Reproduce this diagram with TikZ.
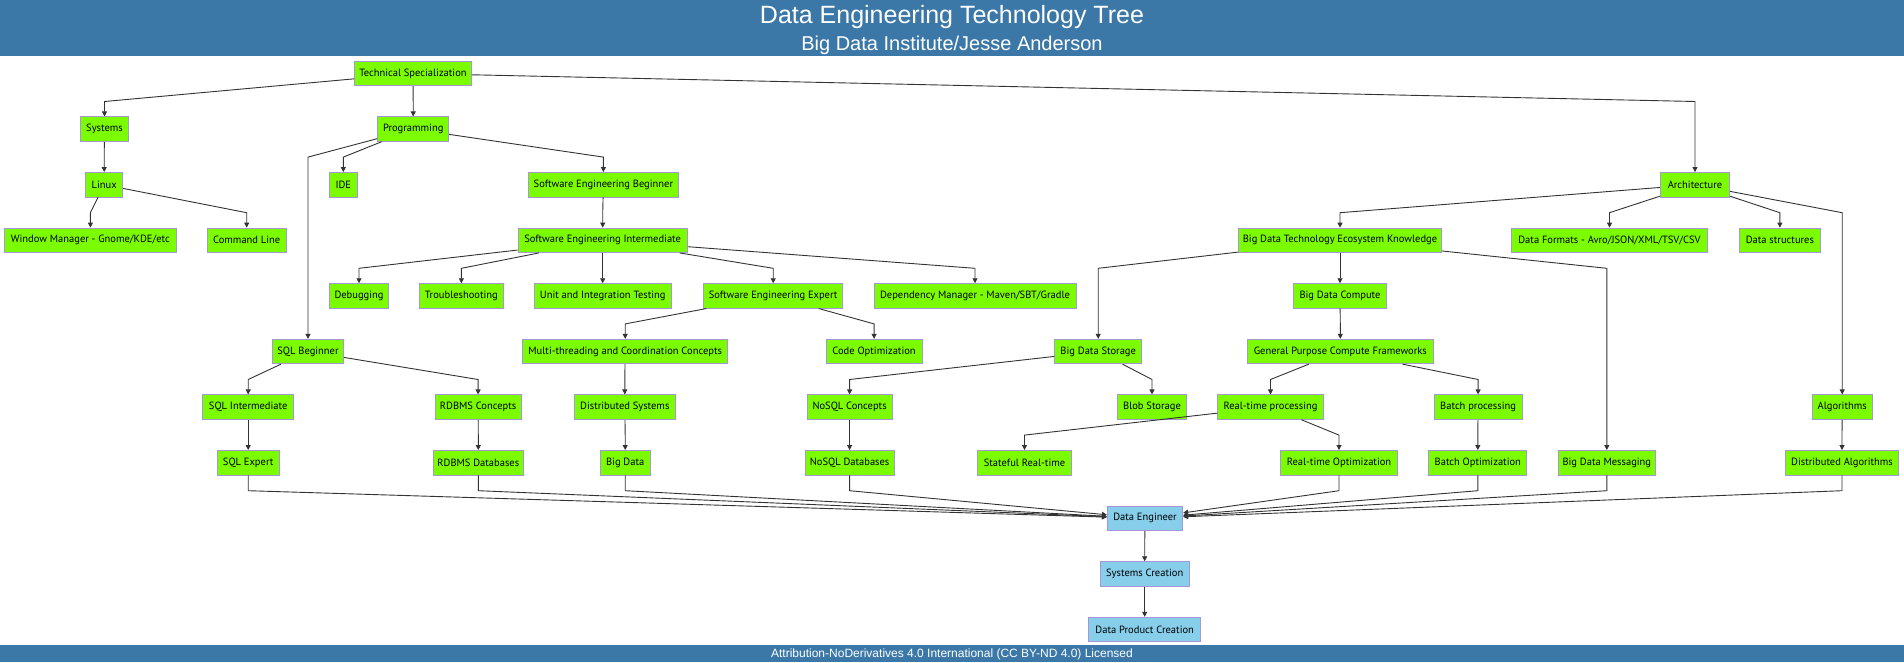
\documentclass[tikz,border=0pt]{standalone}
\usepackage{fontspec}
\setmainfont{Liberation Sans}
\newfontfamily\boxfont{PT Sans}
\usepackage{tikz}
\usetikzlibrary{arrows.meta,calc}
\definecolor{bandblue}{RGB}{59,120,168}
\definecolor{skillgreen}{RGB}{124,252,0}
\definecolor{rolesky}{RGB}{135,206,235}
\definecolor{boxline}{RGB}{165,150,215}
\definecolor{wire}{RGB}{51,51,51}

\begin{document}
\begin{tikzpicture}[x=1pt,y=-1pt,
  skill/.style={draw=boxline,line width=0.8pt,fill=skillgreen,minimum height=24.5pt,
    inner xsep=4pt,inner ysep=0pt,font=\boxfont\fontsize{10.5}{12.5}\selectfont,text=black},
  role/.style={skill,fill=rolesky},
  edge/.style={draw=wire,line width=0.9pt,-{Triangle[length=5pt,width=5pt]}},
  band/.style={text=white,anchor=base}]
  \useasboundingbox (0,0) rectangle (1904,662);

  % header and footer bands
  \fill[bandblue] (0,0) rectangle (1904,56);
  \fill[bandblue] (0,645) rectangle (1904,662);
  \node[band,font=\fontsize{25}{30}\selectfont] (title) at (952,23.5) {Data Engineering Technology Tree};
  \node[band,font=\fontsize{20}{24}\selectfont] (subtitle) at (952,50) {Big Data Institute/Jesse Anderson};
  \node[band,font=\fontsize{12}{14}\selectfont] (licence) at (952,657.5) {Attribution-NoDerivatives 4.0 International (CC BY-ND 4.0) Licensed};

  % rows 1-4
  \node[skill,minimum width=117pt] (ts) at (413,73.5) {Technical Specialization};
  \node[skill,minimum width=48pt] (sys) at (104.5,129.1) {Systems};
  \node[skill,minimum width=71pt] (prog) at (413.2,129.1) {Programming};
  \node[skill,minimum width=37pt] (linux) at (104.2,184.7) {Linux};
  \node[skill,minimum width=27.6pt] (ide) at (343.3,184.7) {IDE};
  \node[skill,minimum width=150.5pt] (seb) at (603.4,184.7) {Software Engineering Beginner};
  \node[skill,minimum width=69.4pt] (arch) at (1695,184.7) {Architecture};
  \node[skill,minimum width=171.8pt] (wm) at (90.4,240.3) {Window Manager - Gnome/KDE/etc};
  \node[skill,minimum width=79pt] (cli) at (246.7,240.3) {Command Line};
  \node[skill,minimum width=169.6pt] (sei) at (602.7,240.3) {Software Engineering Intermediate};
  \node[skill,minimum width=203.2pt] (bdtek) at (1340,240.3) {Big Data Technology Ecosystem Knowledge};
  \node[skill,minimum width=196pt] (fmt) at (1609.5,240.3) {Data Formats - Avro/JSON/XML/TSV/CSV};
  \node[skill,minimum width=81.5pt] (dstruct) at (1779.9,240.3) {Data structures};

  % rows 5-6
  \node[skill,minimum width=59pt] (dbg) at (359,295.9) {Debugging};
  \node[skill,minimum width=83.5pt] (trbl) at (461.4,295.9) {Troubleshooting};
  \node[skill,minimum width=137.5pt] (uit) at (602.7,295.9) {Unit and Integration Testing};
  \node[skill,minimum width=139.3pt] (see) at (773.2,295.9) {Software Engineering Expert};
  \node[skill,minimum width=201.8pt] (dep) at (975,295.9) {Dependency Manager - Maven/SBT/Gradle};
  \node[skill,minimum width=92.4pt] (bdc) at (1340,295.9) {Big Data Compute};
  \node[skill,minimum width=71.3pt] (sqlb) at (308,351.5) {SQL Beginner};
  \node[skill,minimum width=205pt] (mt) at (625.2,351.5) {Multi-threading and Coordination Concepts};
  \node[skill,minimum width=96.4pt] (co) at (874.1,351.5) {Code Optimization};
  \node[skill,minimum width=87pt] (bds) at (1098.2,351.5) {Big Data Storage};
  \node[skill,minimum width=186.8pt] (gp) at (1340.3,351.5) {General Purpose Compute Frameworks};

  % rows 7-8
  \node[skill,minimum width=91pt] (sqli) at (248.2,407.1) {SQL Intermediate};
  \node[skill,minimum width=85.7pt] (rc) at (478.1,407.1) {RDBMS Concepts};
  \node[skill,minimum width=100.4pt] (dsys) at (624.8,407.1) {Distributed Systems};
  \node[skill,minimum width=84.9pt] (nc) at (849.6,407.1) {NoSQL Concepts};
  \node[skill,minimum width=68.6pt] (blob) at (1152,407.1) {Blob Storage};
  \node[skill,minimum width=105.3pt] (rtp) at (1270.5,407.1) {Real-time processing};
  \node[skill,minimum width=87.6pt] (bp) at (1478.1,407.1) {Batch processing};
  \node[skill,minimum width=60.3pt] (alg) at (1842.2,407.1) {Algorithms};
  \node[skill,minimum width=61.7pt] (sqlx) at (248.2,462.7) {SQL Expert};
  \node[skill,minimum width=89.7pt] (rdb) at (478.3,462.7) {RDBMS Databases};
  \node[skill,minimum width=49.6pt] (bd) at (625.2,462.7) {Big Data};
  \node[skill,minimum width=89.3pt] (ndb) at (849.6,462.7) {NoSQL Databases};
  \node[skill,minimum width=94.4pt] (srt) at (1024.5,462.7) {Stateful Real-time};
  \node[skill,minimum width=117pt] (rto) at (1339,462.7) {Real-time Optimization};
  \node[skill,minimum width=98pt] (bo) at (1477.8,462.7) {Batch Optimization};
  \node[skill,minimum width=96.8pt] (bdm) at (1606.8,462.7) {Big Data Messaging};
  \node[skill,minimum width=113.1pt] (da) at (1842,462.7) {Distributed Algorithms};

  % the role chain
  \node[role,minimum width=75.4pt] (de) at (1145,518.3) {Data Engineer};
  \node[role,minimum width=89.3pt] (sc) at (1144.7,573.9) {Systems Creation};
  \node[role,minimum width=112pt] (dpc) at (1144.7,629.5) {Data Product Creation};

  % parent -> child, bend just below the parent's row
  \foreach \p/\c in {ts/sys,ts/prog,ts/arch,sys/linux,linux/wm,linux/cli,
      prog/ide,prog/seb,prog/sqlb,seb/sei,sei/dbg,sei/trbl,sei/uit,sei/see,sei/dep,
      see/mt,see/co,mt/dsys,dsys/bd,sqlb/sqli,sqlb/rc,sqli/sqlx,rc/rdb,
      arch/bdtek,arch/fmt,arch/dstruct,arch/alg,bdtek/bds,bdtek/bdc,bdtek/bdm,
      bdc/gp,bds/nc,bds/blob,nc/ndb,gp/rtp,gp/bp,rtp/srt,rtp/rto,bp/bo,alg/da,
      de/sc,sc/dpc} {
    \path (\p) ++(0,28) coordinate (bend);
    \draw[edge] (\p) -- (bend -| \c) -- (\c);
  }

  % everything that ends in the data engineer
  \foreach \p in {sqlx,rdb,bd,ndb,rto,bo,bdm,da} {
    \path (\p) ++(0,28) coordinate (bend);
    \draw[edge] (\p) -- (bend) -- (de);
  }
\end{tikzpicture}
\end{document}
